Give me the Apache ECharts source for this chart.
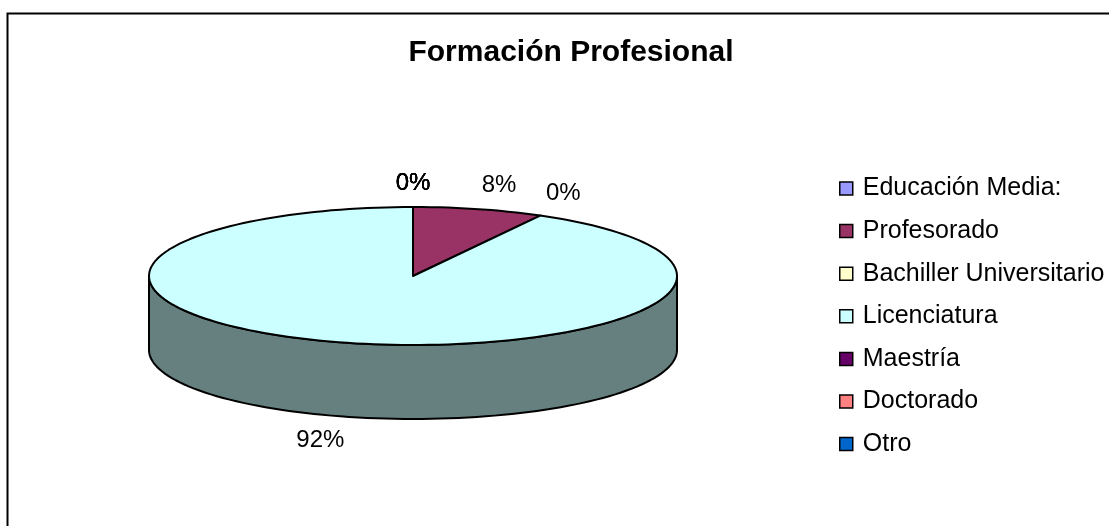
<!DOCTYPE html>
<html>
<head>
<meta charset="utf-8">
<script src="https://cdn.jsdelivr.net/npm/echarts@6/dist/echarts.min.js"></script>
<style>
  html, body { margin: 0; padding: 0; background: #fff; }
  #chart { width: 1109px; height: 526px; }
</style>
</head>
<body>
<div id="chart"></div>
<script>
const categories = ["Educación Media:", "Profesorado", "Bachiller Universitario", "Licenciatura", "Maestría", "Doctorado", "Otro"];
const values = [0, 8, 0, 92, 0, 0, 0];
const topColors = ["#9999FF", "#993366", "#FFFFCC", "#CCFFFF", "#660066", "#FF8080", "#0066CC"];
const sideColors = ["#666699", "#66223F", "#999980", "#668080", "#400040", "#995050", "#004080"];

// pie geometry (ellipse of the top face, thickness of the side)
const PIE = { cx: 413, cy: 276, rx: 264, ry: 69, depth: 74 };
const FONT = "Liberation Sans, Arial, sans-serif";

const total = values.reduce((a, b) => a + b, 0);
const starts = [];
let acc = 0;
values.forEach((v) => {
  starts.push((acc / total) * 360);
  acc += v;
});

// angle in degrees, clockwise from 12 o'clock
function rimPoint(deg, dy) {
  const t = (deg * Math.PI) / 180;
  return [PIE.cx + PIE.rx * Math.sin(t), PIE.cy - PIE.ry * Math.cos(t) + dy];
}

function arcPoints(a0, a1, dy) {
  const pts = [];
  const n = Math.max(2, Math.ceil((a1 - a0) / 2));
  for (let i = 0; i <= n; i++) pts.push(rimPoint(a0 + ((a1 - a0) * i) / n, dy));
  return pts;
}

function makeRender(idx) {
  return function (params, api) {
    const v = api.value(0);
    const a0 = starts[idx];
    const a1 = a0 + (v / total) * 360;
    const children = [];

    if (v > 0) {
      // visible front side
      const s0 = Math.max(a0, 90);
      const s1 = Math.min(a1, 270);
      if (s1 > s0) {
        const pts = arcPoints(s0, s1, 0).concat(arcPoints(s0, s1, PIE.depth).reverse());
        children.push({
          type: "polygon",
          shape: { points: pts },
          style: { fill: sideColors[idx], stroke: "#000", lineWidth: 2, lineJoin: "round" },
        });
      }
      // top face
      const top = [[PIE.cx, PIE.cy]].concat(arcPoints(a0, a1, 0));
      children.push({
        type: "polygon",
        shape: { points: top },
        style: { fill: topColors[idx], stroke: "#000", lineWidth: 2, lineJoin: "round" },
      });
    }

    // percent label
    const mid = (a0 + a1) / 2;
    const t = (mid * Math.PI) / 180;
    const sx = Math.sin(t);
    const cy = Math.cos(t);
    const p = rimPoint(mid, cy < 0 ? PIE.depth : 0);
    children.push({
      type: "text",
      x: p[0] + 12 * sx,
      y: p[1] - 12 * cy,
      z2: 10,
      style: {
        text: Math.round((v / total) * 100) + "%",
        fontSize: 24,
        fontFamily: FONT,
        fill: "#000",
        align: Math.abs(sx) < 0.1 ? "center" : sx > 0 ? "left" : "right",
        verticalAlign: cy > 0 ? "bottom" : "top",
      },
    });

    return { type: "group", children: children };
  };
}

const chart = echarts.init(document.getElementById("chart"), null, { renderer: "canvas" });

const option = {
  animation: false,
  backgroundColor: "#fff",
  color: [...topColors],
  title: {
    text: "Formación Profesional",
    left: 566,
    top: 33,
    textAlign: "center",
    textStyle: { fontSize: 30, fontWeight: "bold", fontFamily: FONT, color: "#000" },
  },
  legend: {
    orient: "vertical",
    left: 834,
    top: 171,
    itemWidth: 13,
    itemHeight: 13,
    itemGap: 17.6,
    icon: "rect",
    selectedMode: false,
    itemStyle: { borderColor: "#000", borderWidth: 1.5 },
    textStyle: { fontSize: 25, fontFamily: FONT, color: "#000", padding: [0, 0, 0, 5] },
    data: categories,
  },
  graphic: [
    {
      type: "rect",
      shape: { x: 7.5, y: 13.5, width: 1200, height: 600 },
      style: { fill: "none", stroke: "#000", lineWidth: 2 },
      silent: true,
    },
  ],
  series: categories.map((name, i) => ({
    type: "custom",
    name: name,
    coordinateSystem: "none",
    itemStyle: { color: topColors[i] },
    data: [[values[i]]],
    renderItem: makeRender(i),
  })),
};

option && chart.setOption(option);
</script>
</body>
</html>
